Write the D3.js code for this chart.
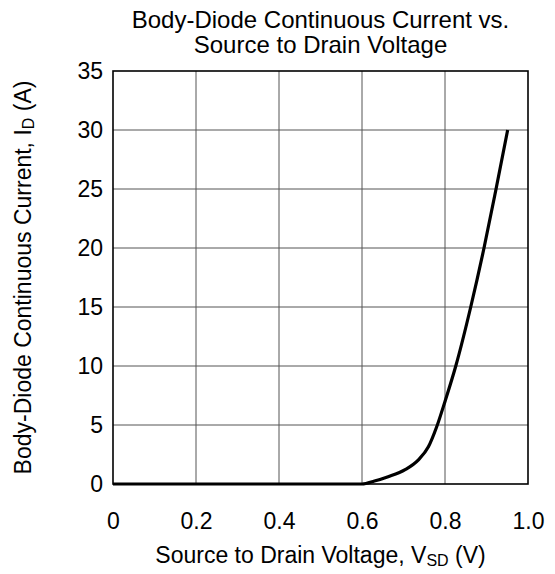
<!DOCTYPE html>
<html><head><meta charset="utf-8">
<script src="https://cdn.jsdelivr.net/npm/d3@7"></script>
<style>body{margin:0;background:#fff}svg{display:block}text{font-family:"Liberation Sans",Arial,sans-serif;fill:#000}</style>
</head><body><svg id="c" width="555" height="574"></svg>
<script>
const voltage = [0, 0.60, 0.63, 0.663, 0.704, 0.736, 0.76, 0.78, 0.80, 0.826, 0.862, 0.894, 0.923, 0.951];
const current = [0, 0.0, 0.25, 0.62, 1.22, 2.05, 3.15, 4.85, 7.0, 10.0, 15.0, 20.0, 25.0, 30.0];
const xTicks = [0, 0.2, 0.4, 0.6, 0.8, 1.0];
const xTickLabels = ["0", "0.2", "0.4", "0.6", "0.8", "1.0"];
const yTicks = [0, 5, 10, 15, 20, 25, 30, 35];

const svg = d3.select("#c");
const L = 113, R = 528, T = 71, B = 484;
const x = d3.scaleLinear().domain([0, 1]).range([L, R]);
const y = d3.scaleLinear().domain([0, 35]).range([B, T]);
const FONT = '"Liberation Sans",Arial,sans-serif';

// grid
svg.append("g").selectAll("line").data(xTicks.slice(1, -1)).join("line")
  .attr("x1", d => x(d)).attr("x2", d => x(d)).attr("y1", T).attr("y2", B)
  .attr("stroke", "#555").attr("stroke-width", 1);
svg.append("g").selectAll("line").data(yTicks.slice(1, -1)).join("line")
  .attr("y1", d => y(d)).attr("y2", d => y(d)).attr("x1", L).attr("x2", R)
  .attr("stroke", "#555").attr("stroke-width", 1);

// axes (labels only)
const xAxis = svg.append("g").attr("transform", `translate(0,${B})`)
  .call(d3.axisBottom(x).tickValues(xTicks).tickFormat((d, i) => xTickLabels[i]).tickSize(0).tickPadding(29));
const yAxis = svg.append("g").attr("transform", `translate(${L},0)`)
  .call(d3.axisLeft(y).tickValues(yTicks).tickSize(0).tickPadding(10));
[xAxis, yAxis].forEach(a => {
  a.select(".domain").remove();
  a.selectAll("text").attr("font-size", 23).attr("font-family", FONT).attr("fill", "#000");
});

// border
svg.append("rect").attr("x", L).attr("y", T).attr("width", R - L).attr("height", B - T)
  .attr("fill", "none").attr("stroke", "#000").attr("stroke-width", 1.6);

// curve
const data = voltage.map((v, i) => [v, current[i]]);
svg.append("path").datum(data)
  .attr("d", d3.line().x(d => x(d[0])).y(d => y(d[1])).curve(d3.curveMonotoneX))
  .attr("fill", "none").attr("stroke", "#000").attr("stroke-width", 3.2);

// title
const title = svg.append("text").attr("text-anchor", "middle").attr("font-size", 24);
title.append("tspan").attr("x", (L + R) / 2).attr("y", 28).text("Body-Diode Continuous Current vs.");
title.append("tspan").attr("x", (L + R) / 2).attr("y", 53).text("Source to Drain Voltage");

// x label
const xl = svg.append("text").attr("x", (L + R) / 2).attr("y", 563).attr("text-anchor", "middle").attr("font-size", 23);
xl.append("tspan").text("Source to Drain Voltage, V");
xl.append("tspan").attr("font-size", 16).attr("dy", 3).text("SD");
xl.append("tspan").attr("dy", -3).text(" (V)");

// y label
const yl = svg.append("text").attr("transform", `translate(31,${(T + B) / 2}) rotate(-90)`).attr("text-anchor", "middle").attr("font-size", 23);
yl.append("tspan").text("Body-Diode Continuous Current, I");
yl.append("tspan").attr("font-size", 16).attr("dy", 3).text("D");
yl.append("tspan").attr("dy", -3).text(" (A)");
</script></body></html>
